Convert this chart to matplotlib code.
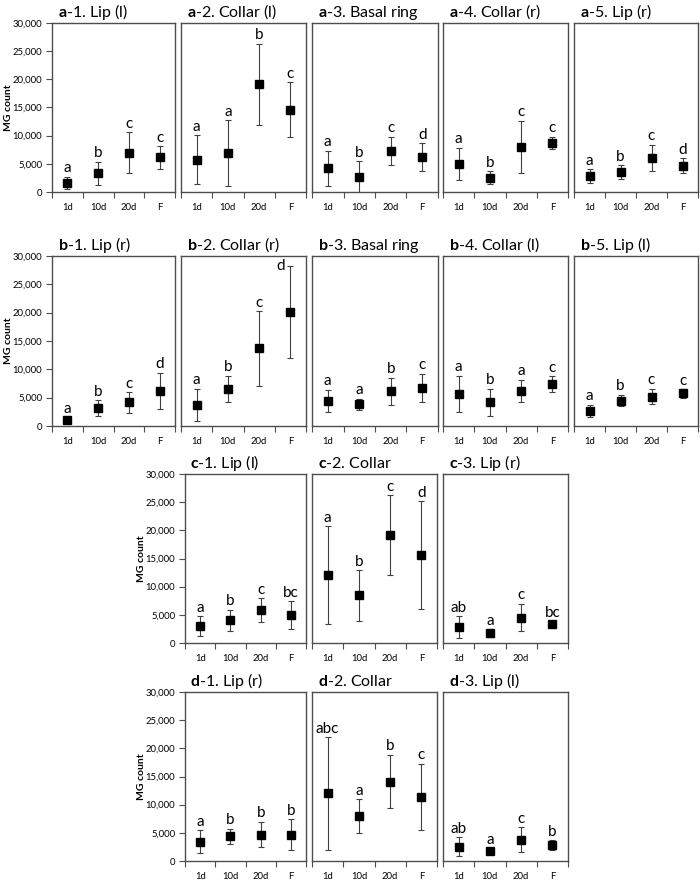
'''
MG count per region and stage, grid of error-bar panels
'''

import numpy as np
import matplotlib
matplotlib.use("Agg")
import matplotlib.pyplot as plt
from matplotlib.ticker import FixedLocator, StrMethodFormatter

plt.rcParams['font.family'] = ['Lato', 'DejaVu Sans']
plt.rcParams['mathtext.fontset'] = 'custom'
plt.rcParams['mathtext.rm'] = 'Lato'
plt.rcParams['mathtext.bf'] = 'Lato:bold'

stages = ["1d", "10d", "20d", "F"]

#row a
a_titles = ["a-1. Lip (l)", "a-2. Collar (l)", "a-3. Basal ring", "a-4. Collar (r)", "a-5. Lip (r)"]
a_means = [[1600, 3300, 7000, 6150], [5750, 6900, 19100, 14600], [4250, 2650, 7300, 6150],
           [5000, 2550, 8000, 8750], [2850, 3500, 6100, 4700]]
a_errs = [[1100, 2100, 3650, 2000], [4300, 5850, 7200, 4850], [3100, 2850, 2500, 2500],
          [2850, 1150, 4650, 1050], [1250, 1250, 2300, 1250]]
a_letters = [["a", "b", "c", "c"], ["a", "a", "b", "c"], ["a", "b", "c", "d"],
             ["a", "b", "c", "c"], ["a", "b", "c", "d"]]

#row b
b_titles = ["b-1. Lip (r)", "b-2. Collar (r)", "b-3. Basal ring", "b-4. Collar (l)", "b-5. Lip (l)"]
b_means = [[1000, 3200, 4150, 6200], [3700, 6600, 13700, 20100], [4450, 3800, 6100, 6700],
           [5700, 4200, 6200, 7400], [2650, 4500, 5200, 5750]]
b_errs = [[550, 1350, 1800, 3200], [2900, 2300, 6600, 8100], [1950, 1050, 2400, 2500],
          [3200, 2350, 1950, 1400], [1100, 1050, 1400, 750]]
b_letters = [["a", "b", "c", "d"], ["a", "b", "c", "d"], ["a", "a", "b", "c"],
             ["a", "b", "a", "c"], ["a", "b", "c", "c"]]

#row c
c_titles = ["c-1. Lip (l)", "c-2. Collar", "c-3. Lip (r)"]
c_means = [[3000, 4000, 5900, 5000], [12000, 8450, 19200, 15600], [2850, 1800, 4500, 3400]]
c_errs = [[1800, 1900, 2100, 2450], [8700, 4500, 7050, 9600], [1950, 700, 2450, 350]]
c_letters = [["a", "b", "c", "bc"], ["a", "b", "c", "d"], ["ab", "a", "c", "bc"]]

#row d
d_titles = ["d-1. Lip (r)", "d-2. Collar", "d-3. Lip (l)"]
d_means = [[3400, 4400, 4700, 4700], [12000, 7950, 14100, 11400], [2550, 1850, 3800, 2850]]
d_errs = [[2050, 1350, 2250, 2750], [10000, 3000, 4750, 5900], [1650, 300, 2150, 850]]
d_letters = [["a", "b", "b", "b"], ["abc", "a", "b", "c"], ["ab", "a", "c", "b"]]

frame = "#4d4d4d"

fig = plt.figure(figsize=(7, 8.8), dpi=100)
W, H = 700.0, 880.0

def panel(x0, x1, y0, y1, title, means, errs, letters, first):
	ax = fig.add_axes([x0/W, 1 - y1/H, (x1 - x0)/W, (y1 - y0)/H])
	x = np.arange(1, len(stages) + 1)
	ax.errorbar(x, means, yerr=errs, fmt="s", color="black", ms=6,
				ecolor="#404040", elinewidth=0.8, capsize=2.5, capthick=0.8)
	for xi, m, e, lab in zip(x, means, errs, letters):
		top = m + e
		if top > 27000:
			ax.annotate(lab, (xi, top), xytext=(-4, 0), textcoords="offset points",
						ha="right", va="center", fontsize=11)
		else:
			ax.annotate(lab, (xi, top), xytext=(0, 1), textcoords="offset points",
						ha="center", va="bottom", fontsize=11)
	ax.set_xlim(0.5, 4.5)
	ax.set_ylim(0, 30000)
	ax.set_xticks(x)
	ax.set_xticklabels(stages, fontsize=6.8)
	ax.xaxis.set_minor_locator(FixedLocator(np.arange(0.5, 4.6, 1.0)))
	ax.tick_params(axis="x", which="major", length=0, pad=8)
	ax.tick_params(axis="x", which="minor", length=4, width=0.8, color=frame, direction="out")
	for s in ax.spines.values():
		s.set_color(frame)
		s.set_linewidth(1.0)
	if first:
		ax.set_yticks(np.arange(0, 30001, 5000))
		ax.yaxis.set_major_formatter(StrMethodFormatter("{x:,.0f}"))
		ax.tick_params(axis="y", labelsize=6.8, length=4, width=0.8, color=frame, pad=3)
		ax.set_ylabel("MG count", fontsize=7.5, fontweight="bold")
		ax.yaxis.set_label_coords(-39.0/(x1 - x0), 0.5)
	else:
		ax.set_yticks([])
	letter, rest = title.split("-", 1)
	ax.text(0.045, 1 + 6.0/(y1 - y0), r"$\mathbf{" + letter + "}$-" + rest, transform=ax.transAxes,
			ha="left", va="baseline", fontsize=11.5)
	return ax

cols_ab = [(52, 175), (181, 306), (312, 438), (443, 568), (574, 698)]
cols_cd = [(185, 306), (312, 437), (443, 568)]

for i in range(5):
	panel(cols_ab[i][0], cols_ab[i][1], 23, 192, a_titles[i], a_means[i], a_errs[i], a_letters[i], i == 0)
	panel(cols_ab[i][0], cols_ab[i][1], 256, 426, b_titles[i], b_means[i], b_errs[i], b_letters[i], i == 0)
for i in range(3):
	panel(cols_cd[i][0], cols_cd[i][1], 474, 643, c_titles[i], c_means[i], c_errs[i], c_letters[i], i == 0)
	panel(cols_cd[i][0], cols_cd[i][1], 692, 861, d_titles[i], d_means[i], d_errs[i], d_letters[i], i == 0)

fig.savefig("out.png", dpi=100)
